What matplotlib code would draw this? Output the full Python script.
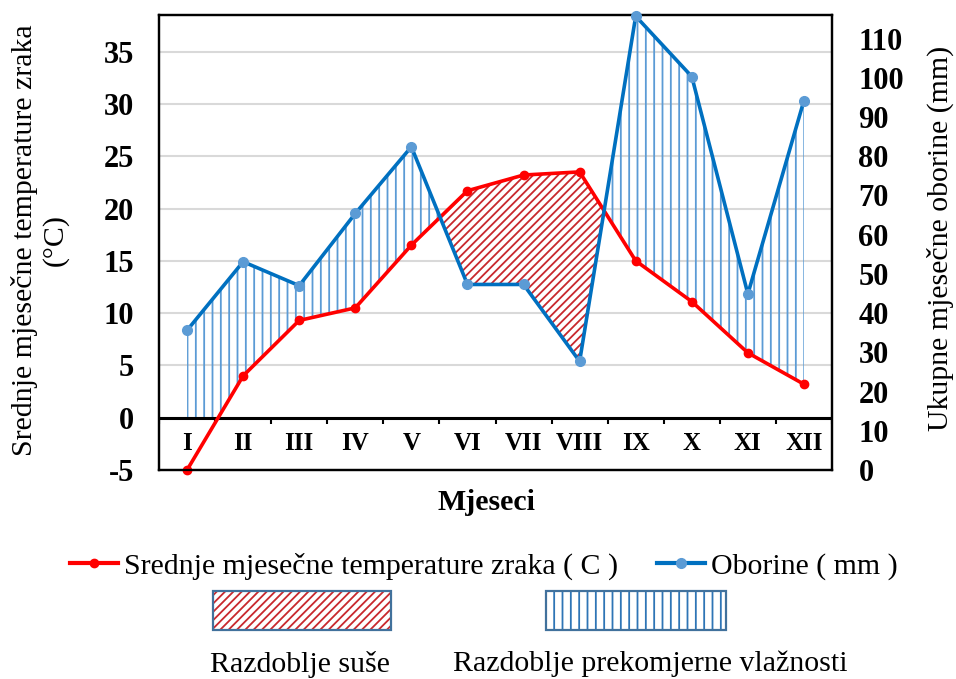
import numpy as np
import matplotlib
matplotlib.use("Agg")
import matplotlib.pyplot as plt
from matplotlib.patches import Rectangle
from matplotlib.lines import Line2D

# ---------------- data ----------------
months = ['I', 'II', 'III', 'IV', 'V', 'VI', 'VII', 'VIII', 'IX', 'X', 'XI', 'XII']
temperature = [-5.0, 4.0, 9.3, 10.5, 16.5, 21.7, 23.2, 23.5, 15.0, 11.1, 6.2, 3.2]
precipitation = [35.6, 53.1, 47.0, 65.4, 82.4, 47.3, 47.3, 27.7, 115.7, 100.3, 44.9, 94.2]
temp_ticks = [-5, 0, 5, 10, 15, 20, 25, 30, 35]
precip_ticks = [0, 10, 20, 30, 40, 50, 60, 70, 80, 90, 100, 110]
temp_label = 'Srednje mjesečne temperature zraka\n(°C)'
precip_label = 'Ukupne mjesečne oborine (mm)'
x_label = 'Mjeseci'
legend_temp = 'Srednje mjesečne temperature zraka ( C )'
legend_prec = 'Oborine ( mm )'
dry_label = 'Razdoblje suše'
wet_label = 'Razdoblje prekomjerne vlažnosti'

T_LIM = (-5, 38.5)
P_LIM = (0, 116)

RED = '#FF0000'
BLUE = '#0070C0'
BLUE_MK = '#5B9BD5'
HATCH_BLUE = '#5B9BD5'
HATCH_RED = '#C8282D'
FONT = 'Liberation Serif'

plt.rcParams['font.family'] = [FONT, 'DejaVu Serif']
plt.rcParams['hatch.linewidth'] = 1.3
plt.rcParams['axes.unicode_minus'] = False

TXT = 21.5
TICK = 22

W, H = 956, 679
fig = plt.figure(figsize=(W / 100, H / 100), dpi=100)
ax = fig.add_axes([159 / W, 1 - 470 / H, 673 / W, 455 / H])
ax2 = ax.twinx()

x = np.arange(len(months))
T = np.array(temperature)
P = np.array(precipitation)
# precipitation expressed on the temperature axis (both axes share the plot box)
P_on_T = T_LIM[0] + (P - P_LIM[0]) * (T_LIM[1] - T_LIM[0]) / (P_LIM[1] - P_LIM[0])

ax.set_xlim(-0.5, len(months) - 0.5)
ax.set_ylim(*T_LIM)
ax2.set_ylim(*P_LIM)

# humid period (precipitation above temperature), clipped at 0 °C
wet = ax.fill_between(x, P_on_T, T, where=P_on_T >= T, interpolate=True,
                      facecolor='none', edgecolor=HATCH_BLUE, linewidth=0,
                      hatch='||', zorder=2)
clip = Rectangle((-0.5, 0), len(months), T_LIM[1] + 5, transform=ax.transData)
wet.set_clip_path(clip)

# dry period (temperature above precipitation)
ax.fill_between(x, T, P_on_T, where=T > P_on_T, interpolate=True,
                facecolor='white', edgecolor=HATCH_RED, linewidth=0,
                hatch='////', zorder=2)

# grid, zero line, category ticks
ax.set_yticks(temp_ticks)
ax.yaxis.grid(True, color='#D9D9D9', linewidth=1.5)
ax.set_axisbelow(True)
ax.axhline(0, color='black', linewidth=2.2, zorder=3)
bounds = np.arange(-0.5, len(months), 1.0)
ax.vlines(bounds, -0.65, 0, color='black', linewidth=1.5, zorder=3)
ax.set_xticks([])
for xi, m in zip(x, months):
    ax.text(xi, -2.45, m, ha='center', va='center', fontsize=18,
            fontweight='bold', zorder=4)

# lines
ax.plot(x, T, color=RED, linewidth=2.6, marker='o', markersize=6,
        markerfacecolor=RED, markeredgecolor=RED, zorder=5, clip_on=False)
ax2.plot(x, P, color=BLUE, linewidth=2.6, marker='o', markersize=7,
         markerfacecolor=BLUE_MK, markeredgecolor=BLUE_MK, zorder=5,
         clip_on=False)

# axes styling
ax.tick_params(axis='y', length=0, pad=18, labelsize=TICK)
ax2.set_yticks(precip_ticks)
ax2.tick_params(axis='y', length=0, pad=19, labelsize=TICK)
for lab in ax.get_yticklabels() + ax2.get_yticklabels():
    lab.set_fontweight('bold')
for a in (ax, ax2):
    for s in a.spines.values():
        s.set_color('black')
        s.set_linewidth(1.6)

fig.text(40 / W, 1 - 240 / H, temp_label, rotation=90, ha='center', va='center',
         fontsize=TXT, linespacing=1.15)
fig.text(940 / W, 1 - 238 / H, precip_label, rotation=90, ha='center', va='center',
         fontsize=TXT)
fig.text(486 / W, 1 - 502 / H, x_label, ha='center', va='center', fontsize=TXT,
         fontweight='bold')

# legend for lines
handles = [Line2D([], [], color=RED, linewidth=3, marker='o', markersize=6,
                  markerfacecolor=RED, markeredgecolor=RED),
           Line2D([], [], color=BLUE, linewidth=3, marker='o', markersize=7,
                  markerfacecolor=BLUE_MK, markeredgecolor=BLUE_MK)]
fig.legend(handles, [legend_temp, legend_prec], loc='center',
           bbox_to_anchor=(484 / W, 1 - 566 / H), ncol=2, frameon=False,
           fontsize=TXT, handlelength=1.6, handletextpad=0.2, columnspacing=1.3)

# legend boxes for periods
def legend_box(x0, x1, y0, y1, color, hatch):
    r = Rectangle((x0 / W, 1 - y1 / H), (x1 - x0) / W, (y1 - y0) / H,
                  transform=fig.transFigure, facecolor='white', edgecolor=color,
                  linewidth=0, hatch=hatch)
    fig.add_artist(r)
    b = Rectangle((x0 / W, 1 - y1 / H), (x1 - x0) / W, (y1 - y0) / H,
                  transform=fig.transFigure, facecolor='none', edgecolor='#41719C',
                  linewidth=1.6)
    fig.add_artist(b)

legend_box(213, 391, 591, 630, HATCH_RED, '////')
legend_box(546, 726, 591, 630, '#2E75B6', '||')
fig.text(300 / W, 1 - 664 / H, dry_label, ha='center', va='center', fontsize=TXT)
fig.text(650 / W, 1 - 664 / H, wet_label, ha='center', va='center', fontsize=TXT)

fig.savefig('out.png', dpi=100)
